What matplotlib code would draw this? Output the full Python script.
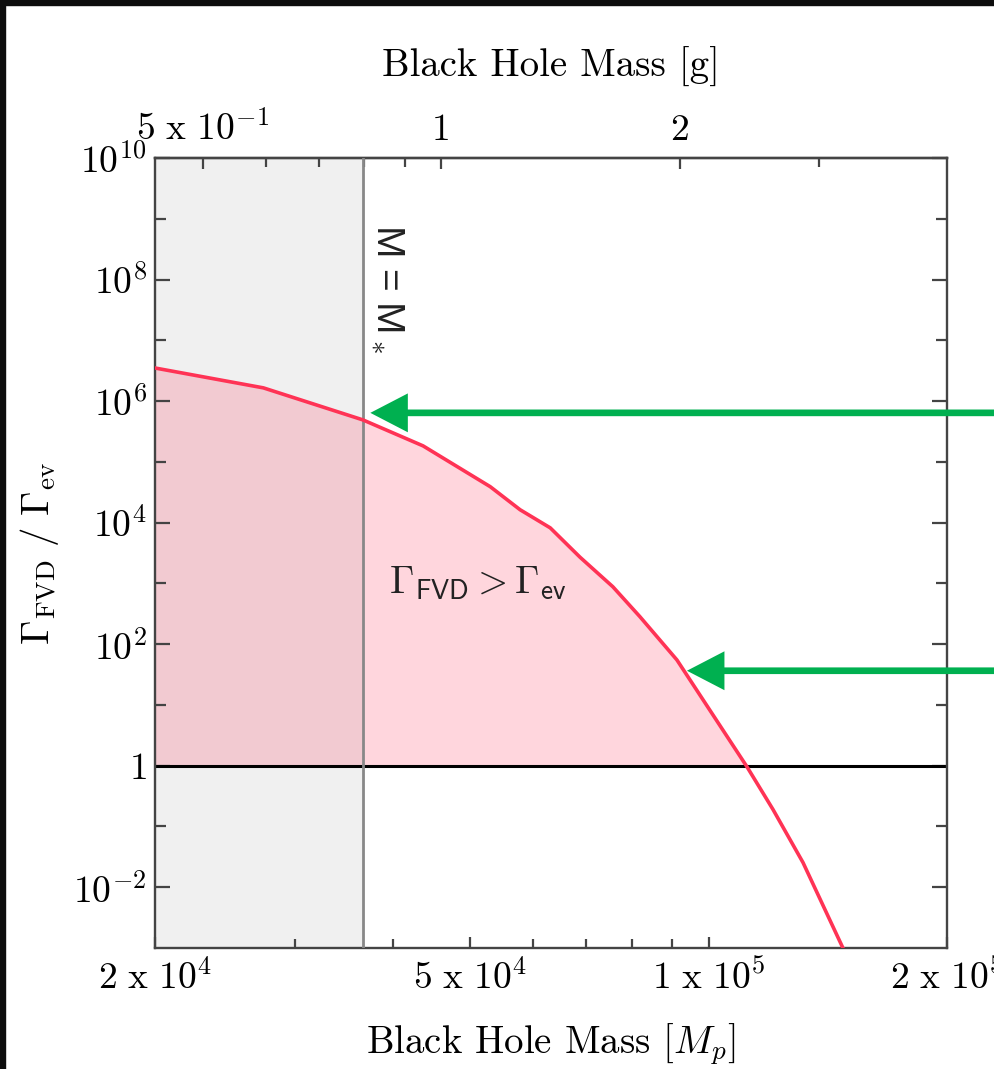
import numpy as np
import matplotlib.pyplot as plt
from matplotlib.patches import Rectangle
from matplotlib.ticker import FixedLocator, NullFormatter

plt.rcParams['font.family'] = 'serif'
plt.rcParams['font.serif'] = ['cmr10']
plt.rcParams['mathtext.fontset'] = 'cm'
plt.rcParams['axes.unicode_minus'] = False

# black hole mass in Planck masses and the rate ratio Gamma_FVD / Gamma_ev
mass_mp = [2.0e4, 2.74e4, 3.66e4, 4.36e4, 5.30e4, 5.78e4, 6.31e4, 6.88e4,
           7.57e4, 8.19e4, 9.12e4, 1.118e5, 1.206e5, 1.316e5, 1.5e5]
rate_ratio = [3.5e6, 1.65e6, 4.9e5, 1.83e5, 3.9e4, 1.63e4, 8.2e3, 2.7e3,
              880, 283, 55, 0.96, 0.19, 0.0254, 6.6e-4]

m_star = 3.66e4
gram_per_mp = 2.176e-5

# points highlighted by the arrows
arrow_mass = [3.74e4, 9.39e4]
arrow_ratio = [6.4e5, 36.5]

x_ticks = [2e4, 5e4, 1e5, 2e5]
x_ticklabels = [r'$2\ \mathrm{x}\ 10^4$', r'$5\ \mathrm{x}\ 10^4$',
                r'$1\ \mathrm{x}\ 10^5$', r'$2\ \mathrm{x}\ 10^5$']
x_minor = [3e4, 4e4, 6e4, 7e4, 8e4, 9e4]
y_ticks = [1e-2, 1, 1e2, 1e4, 1e6, 1e8, 1e10]
y_ticklabels = [r'$10^{-2}$', r'$1$', r'$10^{2}$', r'$10^{4}$',
                r'$10^{6}$', r'$10^{8}$', r'$10^{10}$']
y_minor = [1e-1, 1e1, 1e3, 1e5, 1e7, 1e9]
g_ticks = [0.5, 1, 2]
g_ticklabels = [r'$5\ \mathrm{x}\ 10^{-1}$', '1', '2']
g_minor = [0.6, 0.7, 0.8, 0.9, 3]

spine_col = '#444444'
red = '#ff3355'
green = '#00b050'

fig = plt.figure(figsize=(9.94, 10.69), dpi=100)
ax = fig.add_axes([0.156, 0.1132, 0.7967, 0.739])

m = np.array(mass_mp)
r = np.array(rate_ratio)

ax.axvspan(2e4, m_star, color='#f0f0f0', zorder=0, lw=0)
ax.fill_between(m, r, 1, where=r >= 1, interpolate=True,
                color=red, alpha=0.2, lw=0, zorder=1)
ax.axhline(1, color='black', lw=2.2, zorder=2)
ax.axvline(m_star, color='#888888', lw=2.0, zorder=3)
ax.plot(m, r, color=red, lw=2.6, zorder=4)

ax.set_xscale('log')
ax.set_yscale('log')
ax.set_xlim(2e4, 2e5)
ax.set_ylim(1e-3, 1e10)

ax.xaxis.set_major_locator(FixedLocator(x_ticks))
ax.set_xticklabels(x_ticklabels)
ax.xaxis.set_minor_locator(FixedLocator(x_minor))
ax.xaxis.set_minor_formatter(NullFormatter())
ax.yaxis.set_major_locator(FixedLocator(y_ticks))
ax.set_yticklabels(y_ticklabels)
ax.yaxis.set_minor_locator(FixedLocator(y_minor))
ax.yaxis.set_minor_formatter(NullFormatter())

ax.tick_params(axis='both', which='both', direction='in', width=1.6,
               color=spine_col, labelsize=27, right=True, top=False)
ax.tick_params(axis='x', which='major', length=8, pad=8)
ax.tick_params(axis='x', which='minor', length=6.5)
ax.tick_params(axis='y', which='major', length=10.8, pad=6)
ax.tick_params(axis='y', which='minor', length=8)
for sp in ax.spines.values():
    sp.set_color(spine_col)
    sp.set_linewidth(1.7)

ax.set_xlabel(r'Black Hole Mass [$M_p$]', fontsize=28, labelpad=18)
ax.set_ylabel(r'$\Gamma_{\rm FVD}\ /\ \Gamma_{\rm ev}$', fontsize=28, labelpad=9)

# grams on the top axis
secax = ax.secondary_xaxis('top', functions=(lambda x: x * gram_per_mp,
                                             lambda g: g / gram_per_mp))
secax.set_xticks(g_ticks, labels=g_ticklabels)
secax.set_xticks(g_minor, minor=True)
secax.xaxis.set_minor_formatter(NullFormatter())
secax.tick_params(axis='x', which='both', direction='in', width=1.6,
                  color=spine_col, labelsize=27)
secax.tick_params(axis='x', which='major', length=8, pad=8)
secax.tick_params(axis='x', which='minor', length=6.5)
secax.spines['top'].set_color(spine_col)
secax.spines['top'].set_linewidth(1.7)
secax.set_xlabel('Black Hole Mass [g]', fontsize=28, labelpad=24)

ax.text(0.293, 0.835, r'M = M$_*$', transform=ax.transAxes, rotation=270,
        family='Liberation Sans', fontsize=28, color='#222222',
        ha='center', va='center', zorder=5)
ax.text(0.408, 0.462, r'$\Gamma_{\mathsf{FVD}} > \Gamma_{\mathsf{ev}}$',
        transform=ax.transAxes, fontsize=28, color='#222222',
        ha='center', va='center', zorder=5)

for am, ar in zip(arrow_mass, arrow_ratio):
    ax.annotate('', xy=(am, ar), xycoords='data',
                xytext=(1.0, ar), textcoords=('figure fraction', 'data'),
                arrowprops=dict(arrowstyle='simple,head_length=27,head_width=28,tail_width=4.8',
                                mutation_scale=1, fc=green, ec='none',
                                shrinkA=0, shrinkB=0),
                annotation_clip=False, zorder=6)

# dark frame along the top and left edges
fig.patches.append(Rectangle((0, 1 - 5 / 1069), 1, 5 / 1069,
                             transform=fig.transFigure, color='#0d0d0d'))
fig.patches.append(Rectangle((0, 0), 5 / 994, 1,
                             transform=fig.transFigure, color='#0d0d0d'))

fig.savefig('out.png', dpi=100)
